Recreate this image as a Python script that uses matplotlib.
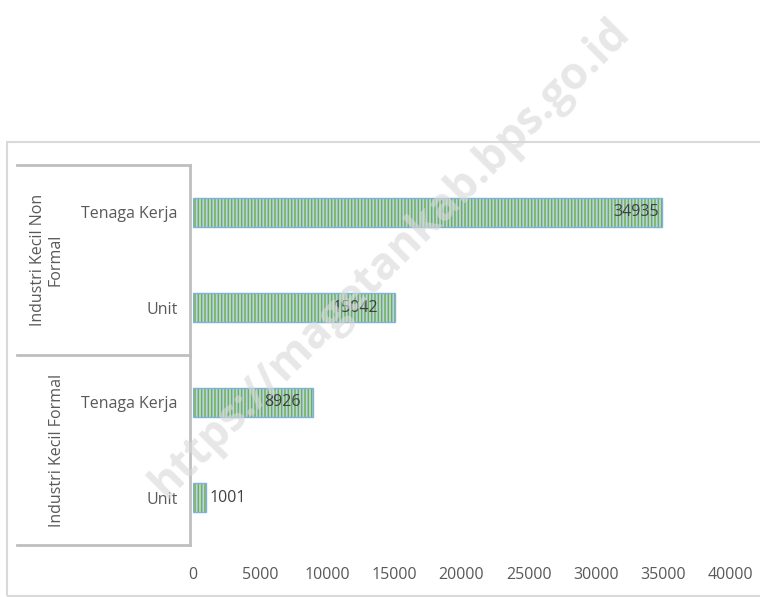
import matplotlib.pyplot as plt
from matplotlib.patches import Rectangle

# data, bottom to top
categories = ["Unit", "Tenaga Kerja", "Unit", "Tenaga Kerja"]
values = [1001, 8926, 15042, 34935]
groups = ["Industri Kecil Formal", "Industri Kecil Non\nFormal"]
xticks = [0, 5000, 10000, 15000, 20000, 25000, 30000, 35000, 40000]

plt.rcParams['font.family'] = ['Open Sans', 'DejaVu Sans']
txt = '#595959'
line = '#bfbfbf'
plt.rcParams['hatch.linewidth'] = 1.1

fig = plt.figure(figsize=(7.6, 5.97), dpi=100)
ax = fig.add_axes([193/760, 52/597, 537/760, 380/597])

ypos = list(range(len(values)))
ax.barh(ypos, values, height=0.3, color='#b7d4ec', edgecolor='#72b04a',
        hatch='|||||', linewidth=0)
ax.barh(ypos, values, height=0.3, fill=False, edgecolor='#7fb2da', linewidth=1)

# value labels (offset in points from bar end)
offsets = [2, -9, -12, -2]
for y, v, off in zip(ypos, values, offsets):
    ax.annotate(str(v), (v, y), xytext=(off, 0), textcoords='offset points',
                ha='left' if off > 0 else 'right', va='center',
                fontsize=11.5, color='#404040')

ax.set_xlim(0, 40000)
ax.set_ylim(-0.5, 3.5)
ax.set_xticks(xticks)
ax.set_xticklabels([str(t) for t in xticks])
ax.set_yticks(ypos)
ax.set_yticklabels(categories)
ax.tick_params(length=0, labelsize=11.5, labelcolor=txt)
ax.tick_params(axis='x', pad=16)
ax.tick_params(axis='y', pad=11)
for s in ax.spines.values():
    s.set_visible(False)

# category frame lines
x0 = (17 - 193) / 537
x1 = (190 - 193) / 537
tr = ax.get_yaxis_transform()
for yy in [-0.5, 1.5, 3.5]:
    ax.plot([x0, x1], [yy, yy], color=line, lw=2, transform=tr, clip_on=False)
ax.plot([x1, x1], [-0.5, 3.5], color=line, lw=2, transform=tr, clip_on=False)

# group labels
ax.text((57 - 193) / 537, 0.5, groups[0], rotation=90, ha='center', va='center',
        fontsize=11.5, color=txt, transform=tr, linespacing=1.1)
ax.text((47 - 193) / 537, 2.5, groups[1], rotation=90, ha='center', va='center',
        fontsize=11.5, color=txt, transform=tr, linespacing=1.1)

# outer chart frame
fig.patches.append(Rectangle((7/760, 1/597), 760, 454/597, transform=fig.transFigure,
                             fill=False, edgecolor='#d9d9d9', lw=1.5))

# watermark
fig.text(390/760, 1 - 258/597, "https://magetankab.bps.go.id", rotation=45,
         ha='center', va='center', fontsize=32, fontweight='bold',
         color='#d8d8d8', alpha=0.6)

fig.savefig("out.png", dpi=100)
